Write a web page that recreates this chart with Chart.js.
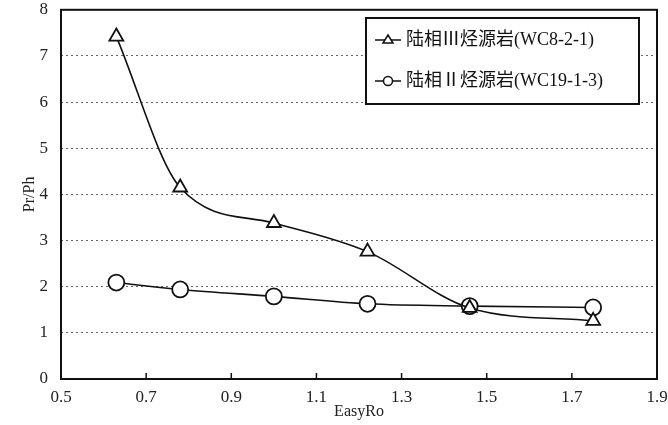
<!DOCTYPE html>
<html>
<head>
<meta charset="utf-8">
<script src="https://cdn.jsdelivr.net/npm/chart.js@4"></script>
<style>
  body { margin: 0; background: #fff; }
  #wrap { width: 668px; height: 425px; }
</style>
</head>
<body>
<div id="wrap"><canvas id="line-chart"></canvas></div>
<script>
// data
var easyRo = [0.63, 0.78, 1.0, 1.22, 1.46, 1.75];
var type3 = [7.42, 4.15, 3.38, 2.76, 1.54, 1.26];
var type2 = [2.09, 1.94, 1.79, 1.63, 1.58, 1.55];
var xTicks = [0.5, 0.7, 0.9, 1.1, 1.3, 1.5, 1.7, 1.9];
var yTicks = [0, 1, 2, 3, 4, 5, 6, 7, 8];
var labels = ["陆相Ⅲ烃源岩(WC8-2-1)", "陆相Ⅱ烃源岩(WC19-1-3)"];

var serif = "'Liberation Serif', 'Noto Sans CJK SC', serif";

function toPoints(ys) {
  return easyRo.map(function (x, i) { return { x: x, y: ys[i] }; });
}

// frame, inward x ticks and the boxed legend
var framePlugin = {
  id: 'frame',
  afterDraw: function (chart) {
    var ctx = chart.ctx, a = chart.chartArea, xs = chart.scales.x;
    ctx.save();
    ctx.strokeStyle = '#111';
    ctx.lineWidth = 2;
    ctx.strokeRect(a.left, a.top, a.right - a.left, a.bottom - a.top);
    ctx.lineWidth = 1.5;
    xTicks.forEach(function (v) {
      var px = xs.getPixelForValue(v);
      ctx.beginPath();
      ctx.moveTo(px, a.bottom);
      ctx.lineTo(px, a.bottom - 6);
      ctx.stroke();
    });

    // legend box
    var bx = 366, by = 18, bw = 273, bh = 86;
    ctx.fillStyle = '#fff';
    ctx.fillRect(bx, by, bw, bh);
    ctx.lineWidth = 2;
    ctx.strokeRect(bx, by, bw, bh);
    ctx.font = "18px " + serif;
    ctx.textBaseline = 'middle';
    ctx.lineWidth = 1.5;
    [0, 1].forEach(function (i) {
      var cy = by + 22 + i * 41;
      ctx.beginPath();
      ctx.moveTo(bx + 9, cy);
      ctx.lineTo(bx + 35, cy);
      ctx.stroke();
      ctx.beginPath();
      if (i === 0) {
        ctx.moveTo(bx + 22, cy - 5);
        ctx.lineTo(bx + 27, cy + 3);
        ctx.lineTo(bx + 17, cy + 3);
        ctx.closePath();
      } else {
        ctx.arc(bx + 22, cy, 4.5, 0, Math.PI * 2);
      }
      ctx.fillStyle = '#fff';
      ctx.fill();
      ctx.stroke();
      ctx.fillStyle = '#111';
      ctx.fillText(labels[i], bx + 40, cy);
    });
    ctx.restore();
  }
};

new Chart(document.getElementById("line-chart"), {
  type: 'line',
  data: {
    datasets: [
      {
        label: labels[0],
        data: toPoints(type3),
        borderColor: '#111',
        borderWidth: 1.6,
        pointStyle: 'triangle',
        pointRadius: 8,
        pointBorderWidth: 1.8,
        pointBackgroundColor: '#fff',
        pointBorderColor: '#111',
        cubicInterpolationMode: 'monotone',
        fill: false
      },
      {
        label: labels[1],
        data: toPoints(type2),
        borderColor: '#111',
        borderWidth: 1.6,
        pointStyle: 'circle',
        pointRadius: 8,
        pointBorderWidth: 1.8,
        pointBackgroundColor: '#fff',
        pointBorderColor: '#111',
        cubicInterpolationMode: 'monotone',
        fill: false
      }
    ]
  },
  options: {
    responsive: true,
    maintainAspectRatio: false,
    animation: false,
    layout: { padding: { top: 9, right: 11, left: 20, bottom: 4 } },
    plugins: {
      legend: { display: false },
      tooltip: { enabled: false }
    },
    scales: {
      x: {
        type: 'linear',
        min: 0.5,
        max: 1.9,
        afterBuildTicks: function (s) { s.ticks = xTicks.map(function (v) { return { value: v }; }); },
        afterFit: function (s) { s.height = 42; },
        grid: { display: false },
        border: { display: false },
        ticks: {
          color: '#222',
          font: { family: serif, size: 17 },
          padding: 0,
          maxRotation: 0,
          callback: function (v) { return v.toFixed(1); }
        },
        title: {
          display: true,
          text: 'EasyRo',
          color: '#222',
          font: { family: serif, size: 16 },
          padding: { top: 0, bottom: 0 }
        }
      },
      y: {
        min: 0,
        max: 8,
        afterBuildTicks: function (s) { s.ticks = yTicks.map(function (v) { return { value: v }; }); },
        afterFit: function (s) { s.width = 41; s.paddingTop = 0; s.paddingBottom = 0; },
        border: { display: false, dash: [2, 3] },
        grid: {
          color: function (c) { return (c.tick.value === 0 || c.tick.value === 8) ? 'rgba(0,0,0,0)' : '#666'; },
          lineWidth: 1,
          drawTicks: false
        },
        ticks: {
          color: '#222',
          font: { family: serif, size: 17 },
          padding: 13
        },
        title: {
          display: true,
          text: 'Pr/Ph',
          color: '#222',
          font: { family: serif, size: 16 },
          padding: { bottom: 0, top: 0 }
        }
      }
    }
  },
  plugins: [framePlugin]
});
</script>
</body>
</html>
